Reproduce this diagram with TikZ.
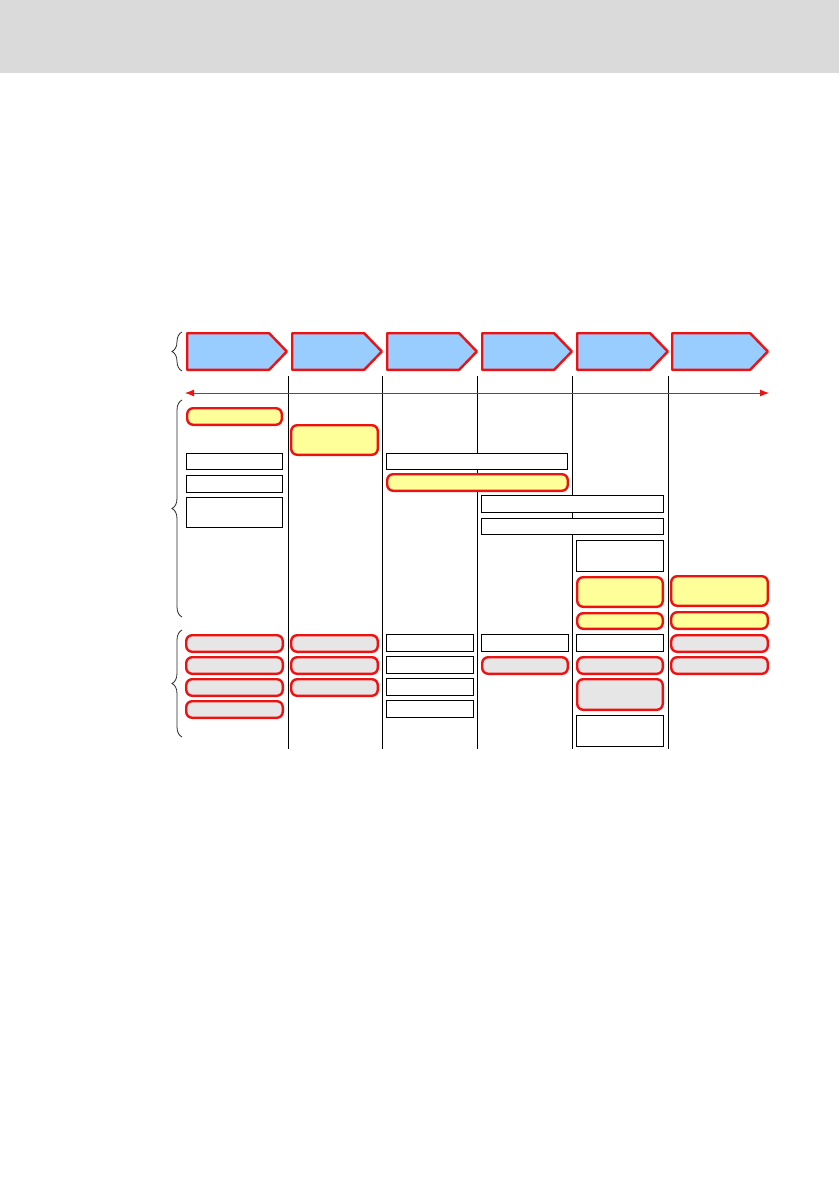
\documentclass[tikz,border=0pt]{standalone}
\usetikzlibrary{positioning,shapes.symbols,arrows.meta,decorations.pathreplacing}
\definecolor{headgray}{HTML}{DADADA}
\definecolor{phaseblue}{HTML}{99CCFF}
\definecolor{noteyellow}{HTML}{FFFF99}
\definecolor{stepgray}{HTML}{E6E6E6}
\definecolor{barred}{HTML}{EE1111}

\tikzset{
  phasebox/.style={signal, signal to=east, signal pointer angle=92, draw=barred, line width=2.4pt, line join=round, fill=phaseblue, minimum height=36.6pt, inner sep=0pt, anchor=west},
  plainbox/.style={draw, line width=0.8pt, fill=white, inner sep=0pt, anchor=north west},
  keybox/.style={draw=barred, line width=2.4pt, rounded corners=6pt, fill=noteyellow, inner sep=0pt, anchor=north west},
  grpbox/.style={keybox, fill=stepgray},
  grpbrace/.style={decorate, decoration={brace, amplitude=10pt}, line width=0.8pt, draw=black!85},
  colline/.style={line width=0.8pt},
}

\begin{document}
\begin{tikzpicture}[x=1pt, y=-1pt]
    \useasboundingbox (0,0) rectangle (839,1191);
    \fill[headgray] (0,0) rectangle (839,73);

    \node[phasebox, minimum width=99.6pt] (ph1) at (186,351.5) {};
    \node[phasebox, minimum width=89.6pt] (ph2) at (291,351.5) {};
    \node[phasebox, minimum width=89.6pt] (ph3) at (386,351.5) {};
    \node[phasebox, minimum width=89.6pt] (ph4) at (481,351.5) {};
    \node[phasebox, minimum width=90.6pt] (ph5) at (576,351.5) {};
    \node[phasebox, minimum width=95.6pt] (ph6) at (671,351.5) {};

    \foreach \x [count=\i] in {288,382,477,572,668} {
        \coordinate (top\i) at (\x,376);
        \coordinate (bot\i) at (\x,749);
        \draw[colline] (top\i) -- (bot\i);
    }

    \coordinate (tl) at (185,393);
    \coordinate (tr) at (769,393);
    \draw[barred, line width=0.8pt, {Latex[length=9pt,width=7pt]}-{Latex[length=9pt,width=7pt]}] (tl) -- (tr);

    \draw[grpbrace] (182,371) -- (182,332);
    \draw[grpbrace] (182,617) -- (182,400);
    \draw[grpbrace] (182,737) -- (182,630);

    \node[keybox, minimum width=94.6pt, minimum height=16.6pt] (k1) at (186,407) {};
    \node[keybox, minimum width=86.6pt, minimum height=29.6pt] (k2) at (290,424) {};
    \node[plainbox, minimum width=96.2pt, minimum height=16.2pt] (p1) at (186,453) {};
    \node[plainbox, minimum width=96.2pt, minimum height=17.2pt, below=5pt of p1] (p2) {};
    \node[plainbox, minimum width=96.2pt, minimum height=30.2pt, below=4pt of p2] (p3) {};
    \node[plainbox, minimum width=181.2pt, minimum height=16.2pt] (p4) at (386,453) {};
    \node[keybox, minimum width=180.6pt, minimum height=16.6pt] (k3) at (386,473) {};
    \node[plainbox, minimum width=182.2pt, minimum height=17.2pt] (p5) at (481,495) {};
    \node[plainbox, minimum width=182.2pt, minimum height=16.2pt, below=5pt of p5] (p6) {};
    \node[plainbox, minimum width=87.2pt, minimum height=31.2pt] (p7) at (576,540) {};
    \node[keybox, minimum width=85.6pt, minimum height=29.6pt, below=4pt of p7] (k4) {};
    \node[keybox, minimum width=85.6pt, minimum height=15.6pt, below=4pt of k4] (k6) {};
    \node[keybox, minimum width=96.6pt, minimum height=29.6pt] (k5) at (670,575) {};
    \node[keybox, minimum width=96.6pt, minimum height=16.6pt, below=4pt of k5] (k7) {};

    \node[grpbox, minimum width=96.6pt, minimum height=16.6pt] (g1) at (185,634) {};
    \node[grpbox, minimum width=96.6pt, minimum height=16.6pt, below=3pt of g1] (g2) {};
    \node[grpbox, minimum width=96.6pt, minimum height=16.6pt, below=3pt of g2] (g3) {};
    \node[grpbox, minimum width=96.6pt, minimum height=16.6pt, below=3pt of g3] (g4) {};
    \node[grpbox, minimum width=86.6pt, minimum height=16.6pt] (g5) at (290,634) {};
    \node[grpbox, minimum width=86.6pt, minimum height=16.6pt, below=3pt of g5] (g6) {};
    \node[grpbox, minimum width=86.6pt, minimum height=16.6pt, below=3pt of g6] (g7) {};
    \node[plainbox, minimum width=87.2pt, minimum height=17.2pt] (p8) at (386,634) {};
    \node[plainbox, minimum width=87.2pt, minimum height=17.2pt, below=4pt of p8] (p9) {};
    \node[plainbox, minimum width=87.2pt, minimum height=17.2pt, below=4pt of p9] (p10) {};
    \node[plainbox, minimum width=87.2pt, minimum height=17.2pt, below=4pt of p10] (p11) {};
    \node[plainbox, minimum width=87.2pt, minimum height=17.2pt] (p12) at (481,634) {};
    \node[grpbox, minimum width=85.6pt, minimum height=16.6pt, below=4pt of p12] (g8) {};
    \node[plainbox, minimum width=87.2pt, minimum height=17.2pt] (p13) at (576,634) {};
    \node[grpbox, minimum width=85.6pt, minimum height=16.6pt, below=4pt of p13] (g9) {};
    \node[grpbox, minimum width=85.6pt, minimum height=30.6pt, below=3pt of g9] (g10) {};
    \node[plainbox, minimum width=87.2pt, minimum height=31.2pt, below=4pt of g10] (p14) {};
    \node[grpbox, minimum width=96.6pt, minimum height=16.6pt] (g11) at (670,634) {};
    \node[grpbox, minimum width=96.6pt, minimum height=16.6pt, below=3pt of g11] (g12) {};
\end{tikzpicture}
\end{document}
